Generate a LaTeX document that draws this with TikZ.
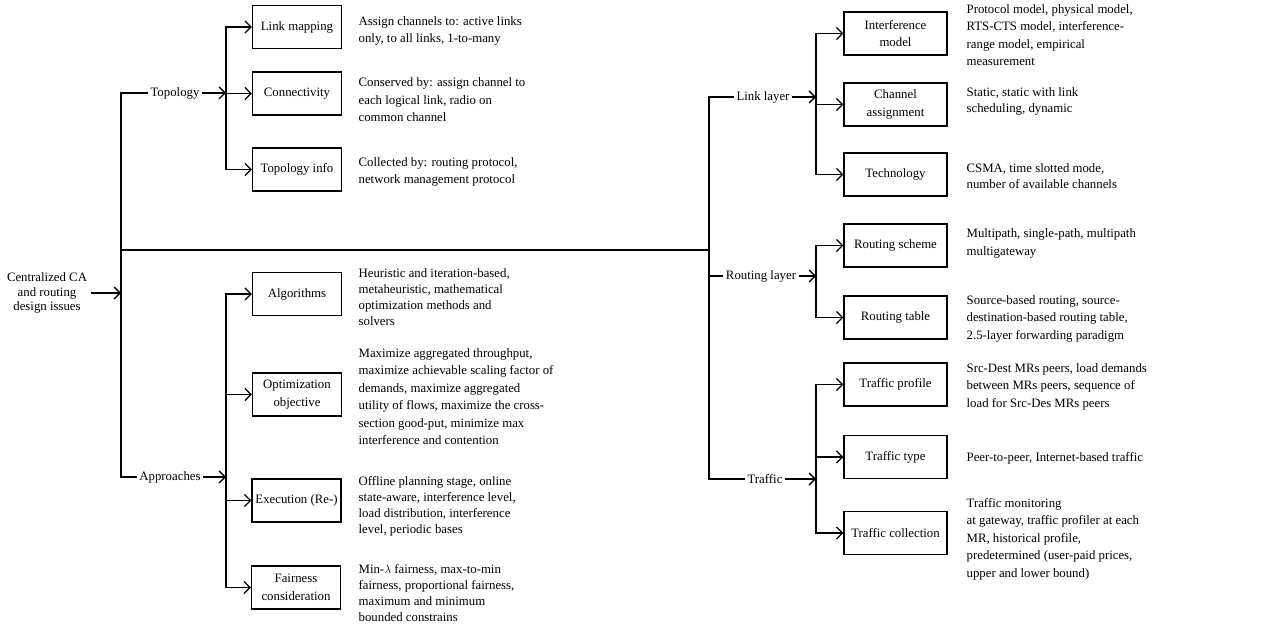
\documentclass[tikz,border=0pt]{standalone}
\usepackage{fontspec}
\setmainfont{Liberation Serif}
\usetikzlibrary{arrows.meta}

\begin{document}
\begin{tikzpicture}[x = 1pt, y = -1pt, line width = 1.3pt,
        font = \fontsize{12.8}{17.5}\selectfont,
        box/.style = {draw, minimum width = 89pt, minimum height = 43pt, align = center, inner sep = 2pt},
        wide/.style = {box, minimum width = 103pt},
        desc/.style = {anchor = west, align = left, inner sep = 0pt},
        tight/.style = {font = \fontsize{12.8}{16}\selectfont},
        branch/.style = {inner sep = 2pt},
        arr/.style = {-{Straight Barb[length = 6pt, width = 12pt]}}]
        \useasboundingbox (0,0) rectangle (1270,631);

        \node [align = center, inner sep = 3pt, font = \fontsize{12.8}{14.5}\selectfont] (root) at (47,293) {Centralized CA\\and routing\\design issues};

        \node [branch] (topo) at (175,93) {Topology};
        \node [branch] (appr) at (170,477) {Approaches};
        \node [branch] (link) at (763,97) {Link layer};
        \node [branch] (rout) at (761,276) {Routing layer};
        \node [branch] (traf) at (765,479) {Traffic};

        \coordinate (trunk) at (121,293);
        \coordinate (midL) at (121,250);
        \coordinate (midR) at (709,250);
        \coordinate (topoJ) at (226,93);
        \coordinate (apprJ) at (226,477);
        \coordinate (linkJ) at (816,97);
        \coordinate (routJ) at (816,276);
        \coordinate (trafJ) at (816,479);

        \node [box] (lm) at (297,27) {Link mapping};
        \node [box] (conn) at (297,93.5) {Connectivity};
        \node [box] (tinfo) at (297,169.5) {Topology info};
        \node [box] (alg) at (297,294) {Algorithms};
        \node [box] (opt) at (297,394.5) {Optimization\\objective};
        \node [box] (exec) at (296.5,500.5) {Execution (Re-)};
        \node [box] (fair) at (296,587.5) {Fairness\\consideration};

        \node [wide] (intf) at (895.5,33.5) {Interference\\model};
        \node [wide] (chan) at (895.5,104.5) {Channel\\assignment};
        \node [wide] (tech) at (895.5,174.5) {Technology};
        \node [wide] (rsch) at (895.5,245.5) {Routing scheme};
        \node [wide] (rtab) at (895.5,317.5) {Routing table};
        \node [wide] (tprof) at (895.5,384.5) {Traffic profile};
        \node [wide] (ttype) at (895.5,457) {Traffic type};
        \node [wide] (tcoll) at (895.5,533) {Traffic collection};

        \node [desc] (lmD) at (358,31) {Assign channels to: active links\\only, to all links, 1-to-many};
        \node [desc] (connD) at (358,100) {Conserved by: assign channel to\\each logical link, radio on\\common channel};
        \node [desc] (tinfoD) at (358,172) {Collected by: routing protocol,\\network management protocol};
        \node [desc, tight] (algD) at (358,297.5) {Heuristic and iteration-based,\\metaheuristic, mathematical\\optimization methods and\\solvers};
        \node [desc] (optD) at (358,396.5) {Maximize aggregated throughput,\\maximize achievable scaling factor of\\demands, maximize aggregated\\utility of flows, maximize the cross-\\section good-put, minimize max\\interference and contention};
        \node [desc, tight] (execD) at (358,506) {Offline planning stage, online\\state-aware, interference level,\\load distribution, interference\\level, periodic bases};
        \node [desc, tight] (fairD) at (358,593.5) {Min-$\lambda$ fairness, max-to-min\\fairness, proportional fairness,\\maximum and minimum\\bounded constrains};

        \node [desc] (intfD) at (966,35) {Protocol model, physical model,\\RTS-CTS model, interference-\\range model, empirical\\measurement};
        \node [desc, tight] (chanD) at (966,101) {Static, static with link\\scheduling, dynamic};
        \node [desc, tight] (techD) at (966,176) {CSMA, time slotted mode,\\number of available channels};
        \node [desc] (rschD) at (966,243.5) {Multipath, single-path, multipath\\multigateway};
        \node [desc] (rtabD) at (966,318.5) {Source-based routing, source-\\destination-based routing table,\\2.5-layer forwarding paradigm};
        \node [desc] (tprofD) at (966,386.5) {Src-Dest MRs peers, load demands\\between MRs peers, sequence of\\load for Src-Des MRs peers};
        \node [desc] (ttypeD) at (966,458) {Peer-to-peer, Internet-based traffic};
        \node [desc] (tcollD) at (966,539) {Traffic monitoring\\at gateway, traffic profiler at each\\MR, historical profile,\\predetermined (user-paid prices,\\upper and lower bound)};

        \draw [arr] (root) -- (trunk);
        \draw (topo) -| (trunk) |- (appr);
        \draw (midL) -- (midR);
        \draw (link) -| (midR) |- (traf);
        \draw (rout) -- (rout -| midR);

        \draw [arr] (topo) -- (topoJ);
        \draw [arr] (appr) -- (apprJ);
        \draw [arr] (link) -- (linkJ);
        \draw [arr] (rout) -- (routJ);
        \draw [arr] (traf) -- (trafJ);

        \foreach \n in {lm, conn, tinfo}
            \draw [arr] (topoJ) |- (\n);
        \foreach \n in {alg, opt, exec, fair}
            \draw [arr] (apprJ) |- (\n);
        \foreach \n in {intf, chan, tech}
            \draw [arr] (linkJ) |- (\n);
        \foreach \n in {rsch, rtab}
            \draw [arr] (routJ) |- (\n);
        \foreach \n in {tprof, ttype, tcoll}
            \draw [arr] (trafJ) |- (\n);
    \end{tikzpicture}
\end{document}
